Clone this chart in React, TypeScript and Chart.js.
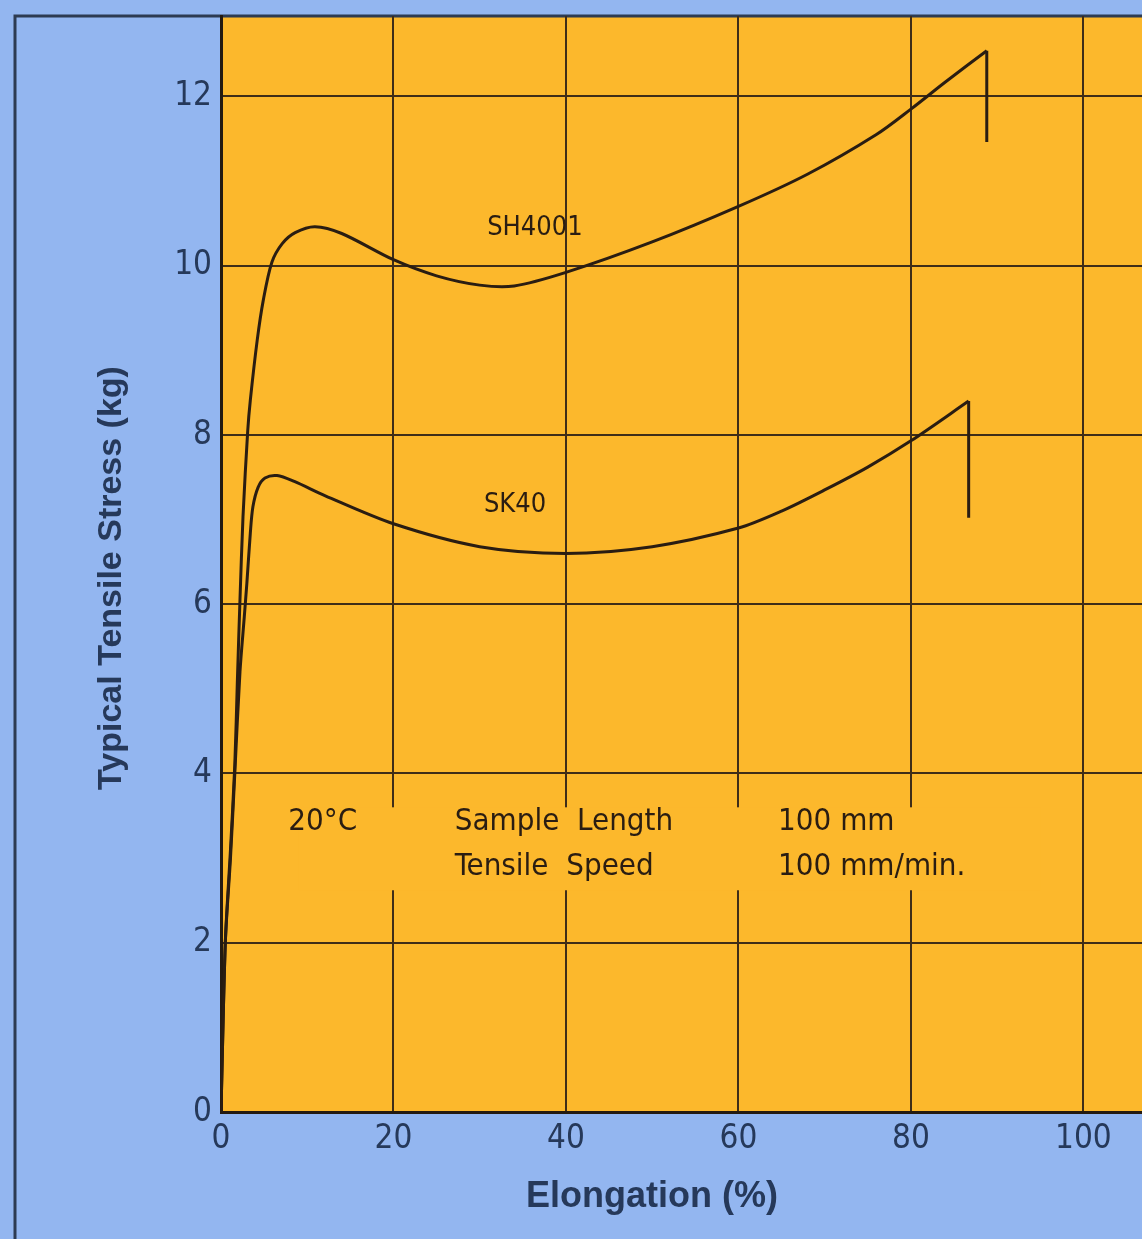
import { useEffect, useRef } from "react";
import { Chart, registerables } from "chart.js";

Chart.register(...registerables);

// ---- data ----
const xTicks = [0, 20, 40, 60, 80, 100];
const yTicks = [0, 2, 4, 6, 8, 10, 12];

const sh4001X = [0, 0.5, 1.1, 1.6, 1.9, 2.2, 2.55, 3.1, 3.4, 4.2, 4.9, 5.9, 7.1, 8.6, 10.9, 14, 20, 25, 30, 34, 40, 50, 60, 68, 76, 80, 84, 88.8];
const sh4001Y = [0, 2, 3.1, 4.1, 5.1, 6.05, 7.03, 8.05, 8.41, 9.12, 9.59, 10.04, 10.26, 10.39, 10.46, 10.38, 10.07, 9.88, 9.77, 9.76, 9.92, 10.28, 10.7, 11.08, 11.55, 11.85, 12.17, 12.54];
const sh4001BreakX = [88.8, 88.8];
const sh4001BreakY = [12.54, 11.46];

const sk40X = [0, 0.5, 1.1, 1.6, 2.2, 2.7, 3.0, 3.4, 3.7, 4.3, 5.1, 6.5, 8.5, 12.1, 20, 30, 40, 50, 60, 65, 70, 75, 80, 86.7];
const sk40Y = [0, 2, 3.0, 4.0, 5.2, 5.85, 6.25, 6.84, 7.15, 7.38, 7.49, 7.52, 7.45, 7.28, 6.95, 6.68, 6.6, 6.68, 6.9, 7.1, 7.35, 7.62, 7.93, 8.4];
const sk40BreakX = [86.7, 86.7];
const sk40BreakY = [8.4, 7.02];

const curveNames = ["SH4001", "SK40"];
const curveNameX = [36.4, 34.1];
const curveNameY = [10.44, 7.17];

const noteTexts = ["20°C", "Sample  Length", "Tensile  Speed", "100 mm", "100 mm/min."];
const noteX = [7.8, 27.1, 27.1, 64.6, 64.6];
const noteY = [3.43, 3.43, 2.89, 3.43, 2.89];

// ---- styles ----
const BLUE = "#93b6f0";
const ORANGE = "#fcb82c";
const INK = "#2a1d12";
const NAVY = "#26395a";
const GRID = "#3f2d18";
const TICK_FONT = "'DejaVu Sans Condensed', 'Liberation Sans Narrow', 'DejaVu Sans', sans-serif";
const TITLE_FONT = "'Liberation Sans', Arial, sans-serif";

const zip = (xs: number[], ys: number[]) => xs.map((x, i) => ({ x, y: ys[i] }));

export default function App() {
  const ref = useRef<HTMLCanvasElement | null>(null);

  useEffect(() => {
    if (!ref.current) return;

    const decor = {
      id: "decor",
      beforeDraw(chart: any) {
        const { ctx, chartArea: a, width, height } = chart;
        ctx.save();
        ctx.fillStyle = BLUE;
        ctx.fillRect(0, 0, width, height);
        ctx.fillStyle = ORANGE;
        ctx.fillRect(a.left, a.top, a.right - a.left, a.bottom - a.top);
        // outer frame
        ctx.strokeStyle = "#2d3b52";
        ctx.lineWidth = 3;
        ctx.beginPath();
        ctx.moveTo(15, height);
        ctx.lineTo(15, a.top);
        ctx.lineTo(width, a.top);
        ctx.stroke();
        ctx.restore();
      },
      beforeDatasetsDraw(chart: any) {
        const { ctx, scales } = chart;
        const xs = scales.x;
        const ys = scales.y;
        ctx.save();
        // text block clears grid lines behind it
        ctx.fillStyle = ORANGE;
        const bx0 = xs.getPixelForValue(9);
        const bx1 = xs.getPixelForValue(95);
        const by0 = ys.getPixelForValue(3.6);
        const by1 = ys.getPixelForValue(2.62);
        ctx.fillRect(bx0, by0, bx1 - bx0, by1 - by0);
        ctx.fillStyle = INK;
        ctx.font = `31px ${TICK_FONT}`;
        ctx.textBaseline = "middle";
        ctx.textAlign = "left";
        noteTexts.forEach((t, i) => {
          ctx.fillText(t, xs.getPixelForValue(noteX[i]), ys.getPixelForValue(noteY[i]));
        });
        ctx.font = `27px ${TICK_FONT}`;
        ctx.textAlign = "center";
        curveNames.forEach((t, i) => {
          ctx.fillText(t, xs.getPixelForValue(curveNameX[i]), ys.getPixelForValue(curveNameY[i]));
        });
        ctx.restore();
      },
      afterDraw(chart: any) {
        const { ctx } = chart;
        ctx.save();
        ctx.fillStyle = NAVY;
        ctx.textAlign = "center";
        ctx.textBaseline = "middle";
        ctx.font = `bold 36px ${TITLE_FONT}`;
        ctx.fillText("Elongation (%)", 652, 1197);
        ctx.translate(112, 578);
        ctx.rotate(-Math.PI / 2);
        ctx.font = `bold 34px ${TITLE_FONT}`;
        ctx.fillText("Typical Tensile Stress (kg)", 0, 0);
        ctx.restore();
      },
    };

    const lineStyle = {
      showLine: true,
      pointRadius: 0,
      borderColor: INK,
      borderWidth: 3,
      fill: false,
    };

    const chart = new Chart(ref.current, {
      type: "scatter",
      data: {
        datasets: [
          { label: "SH4001", data: zip(sh4001X, sh4001Y), tension: 0.3, ...lineStyle },
          { label: "SH4001 break", data: zip(sh4001BreakX, sh4001BreakY), tension: 0, ...lineStyle },
          { label: "SK40", data: zip(sk40X, sk40Y), tension: 0.3, ...lineStyle },
          { label: "SK40 break", data: zip(sk40BreakX, sk40BreakY), tension: 0, ...lineStyle },
        ],
      },
      options: {
        animation: false,
        responsive: false,
        layout: { padding: { top: 16, right: 0, left: 0, bottom: 0 } },
        plugins: { legend: { display: false }, tooltip: { enabled: false } },
        scales: {
          x: {
            type: "linear",
            min: 0,
            max: 106.8,
            afterBuildTicks: (s: any) => {
              s.ticks = xTicks.map((v) => ({ value: v }));
            },
            afterFit: (s: any) => {
              s.height = 127;
              s.paddingLeft = 0;
              s.paddingRight = 0;
            },
            grid: { color: GRID, lineWidth: 2, drawTicks: false },
            border: { display: true, color: "#241a10", width: 3 },
            ticks: {
              color: NAVY,
              font: { family: TICK_FONT, size: 33 },
              padding: 8,
              maxRotation: 0,
              autoSkip: false,
            },
          },
          y: {
            type: "linear",
            min: 0,
            max: 12.95,
            afterBuildTicks: (s: any) => {
              s.ticks = yTicks.map((v) => ({ value: v }));
            },
            afterFit: (s: any) => {
              s.width = 221;
              s.paddingTop = 0;
              s.paddingBottom = 0;
            },
            grid: { color: GRID, lineWidth: 2, drawTicks: false },
            border: { display: true, color: "#241a10", width: 3 },
            ticks: {
              color: NAVY,
              font: { family: TICK_FONT, size: 33 },
              padding: 9,
              autoSkip: false,
            },
          },
        },
      },
      plugins: [decor],
    } as any);

    return () => chart.destroy();
  }, []);

  return (
    <div style={{ position: "absolute", left: 0, top: 0, width: 1142, height: 1239 }}>
      <canvas ref={ref} width={1142} height={1239} style={{ display: "block" }} />
    </div>
  );
}
